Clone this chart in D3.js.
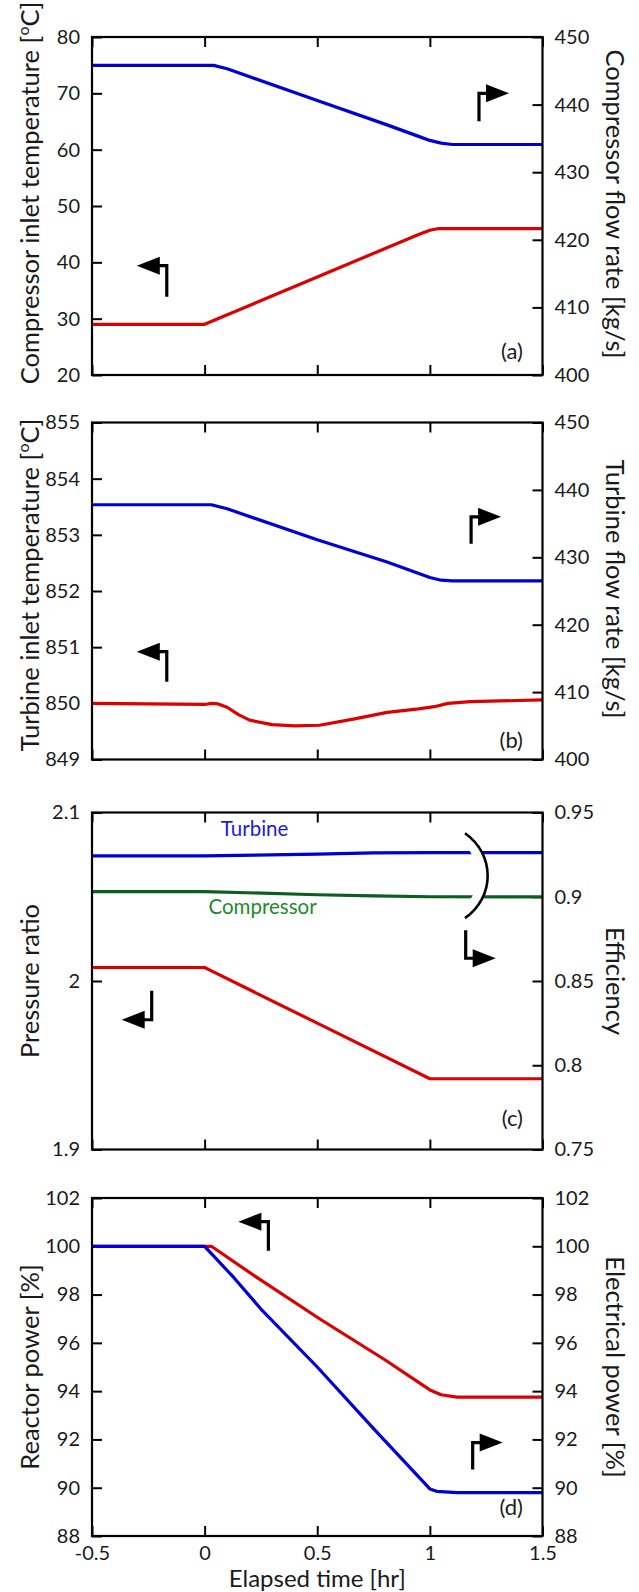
<!DOCTYPE html>
<html>
<head>
<meta charset="utf-8">
<script src="https://cdn.jsdelivr.net/npm/d3@7"></script>
<style>
  body { margin: 0; background: #fff; }
  text { font-family: Lato, "Open Sans", sans-serif; fill: #1a1a1a; }
</style>
</head>
<body>
<div id="chart"></div>
<script>
// ---------------- data ----------------
const timeTicks = [-0.5, 0, 0.5, 1, 1.5];

// (a) compressor
const compTempTime = [-0.5, 0, 0.5, 0.95, 1.0, 1.04, 1.5];
const compTemp     = [29, 29, 37.4, 44.95, 45.7, 46.0, 46.0];
const compFlowTime = [-0.5, 0.04, 0.1, 0.5, 0.81, 0.95, 1.0, 1.05, 1.1, 1.5];
const compFlow     = [445.8, 445.8, 445.3, 440.6, 437.0, 435.3, 434.7, 434.3, 434.1, 434.1];
const compTempTicks = [20, 30, 40, 50, 60, 70, 80];
const compFlowTicks = [400, 410, 420, 430, 440, 450];

// (b) turbine
const turbTempTime = [-0.5, 0, 0.03, 0.06, 0.1, 0.15, 0.2, 0.3, 0.4, 0.51, 0.66, 0.81, 0.95, 1.02, 1.08, 1.18, 1.5];
const turbTemp     = [850.0, 849.98, 850.0, 849.99, 849.93, 849.8, 849.7, 849.62, 849.6, 849.61, 849.72, 849.84, 849.9, 849.94, 850.0, 850.03, 850.06];
const turbFlowTime = [-0.5, 0.03, 0.1, 0.5, 0.81, 1.0, 1.05, 1.1, 1.5];
const turbFlow     = [437.8, 437.8, 437.2, 432.6, 429.3, 427.0, 426.6, 426.5, 426.5];
const turbTempTicks = [849, 850, 851, 852, 853, 854, 855];
const turbFlowTicks = [400, 410, 420, 430, 440, 450];

// (c) pressure ratio and efficiencies
const prTime = [-0.5, 0, 0.03, 0.5, 1.0, 1.5];
const pressureRatio = [2.008, 2.008, 2.006, 1.975, 1.942, 1.942];
const effTime = [-0.5, 0, 0.5, 0.75, 1.0, 1.5];
const turbineEff    = [0.9243, 0.9243, 0.9253, 0.9260, 0.9262, 0.9262];
const compressorEff = [0.9031, 0.9031, 0.9012, 0.9005, 0.9000, 0.8999];
const prTicks  = [1.9, 2, 2.1];
const effTicks = [0.75, 0.8, 0.85, 0.9, 0.95];

// (d) power
const reactorTime = [-0.5, 0.03, 0.23, 0.51, 0.8, 0.96, 1.0, 1.05, 1.12, 1.5];
const reactorPower = [100, 100, 98.72, 97.0, 95.3, 94.3, 94.05, 93.85, 93.75, 93.75];
const elecTime = [-0.5, 0, 0.13, 0.25, 0.5, 0.75, 1.0, 1.03, 1.12, 1.5];
const elecPower = [100, 100, 98.7, 97.4, 95.0, 92.45, 89.95, 89.85, 89.8, 89.8];
const powerTicks = [88, 90, 92, 94, 96, 98, 100, 102];

// ---------------- layout ----------------
const W = 639, H = 1592;
const left = 92, right = 542.5;
const RED = "#dd0000", BLUE = "#0000d4", GREEN = "#0b5e1c";

const svg = d3.select("#chart").append("svg")
  .attr("width", W).attr("height", H);

const x = d3.scaleLinear().domain([-0.5, 1.5]).range([left, right]);

const panels = [
  { tag: "(a)", top: 37, h: 338, tagDy: 16,
    leftDomain: [20, 80], leftTicks: compTempTicks,
    rightDomain: [400, 450], rightTicks: compFlowTicks,
    leftTitle: ["Compressor inlet temperature [", "o", "C]"], leftShift: -13,
    rightTitle: ["Compressor flow rate [kg/s]"], rightShift: -2,
    series: [
      { t: compTempTime, v: compTemp, axis: "L", color: RED },
      { t: compFlowTime, v: compFlow, axis: "R", color: BLUE }],
    arrows: [
      { t: -0.168, y: 39.4, stem: 31, dir: "left" },
      { t: 1.218, y: 70.0, stem: 28, dir: "right" }] },
  { tag: "(b)", top: 422.5, h: 337, tagDy: 12,
    leftDomain: [849, 855], leftTicks: turbTempTicks,
    rightDomain: [400, 450], rightTicks: turbFlowTicks,
    leftTitle: ["Turbine inlet temperature [", "o", "C]"], leftShift: -6,
    rightTitle: ["Turbine flow rate [kg/s]"], rightShift: -2,
    series: [
      { t: turbTempTime, v: turbTemp, axis: "L", color: RED },
      { t: turbFlowTime, v: turbFlow, axis: "R", color: BLUE }],
    arrows: [
      { t: -0.168, y: 850.92, stem: 30, dir: "left" },
      { t: 1.183, y: 853.32, stem: 27, dir: "right" }] },
  { tag: "(c)", top: 812.5, h: 337, tagDy: 24,
    leftDomain: [1.9, 2.1], leftTicks: prTicks,
    rightDomain: [0.75, 0.95], rightTicks: effTicks,
    leftTitle: ["Pressure ratio"], leftShift: 0,
    rightTitle: ["Efficiency"], rightShift: 0,
    series: [
      { t: prTime, v: pressureRatio, axis: "L", color: RED },
      { t: effTime, v: turbineEff, axis: "R", color: BLUE },
      { t: effTime, v: compressorEff, axis: "R", color: GREEN }],
    arrows: [
      { t: -0.235, y: 1.977, stem: -29, dir: "left" },
      { t: 1.159, y: 2.0135, stem: -28, dir: "right" }],
    labels: [
      { text: "Turbine", t: 0.222, y: 0.9363, color: "#1c1cdc" },
      { text: "Compressor", t: 0.257, y: 0.8899, color: "#1e8a2c" }],
    bracket: { t: 1.156, tb: 1.223, y1: 0.9377, y2: 0.8873 } },
  { tag: "(d)", top: 1198, h: 338, tagDy: 21,
    leftDomain: [88, 102], leftTicks: powerTicks,
    rightDomain: [88, 102], rightTicks: powerTicks,
    leftTitle: ["Reactor power [%]"], leftShift: 0,
    rightTitle: ["Electrical power [%]"], rightShift: 0,
    series: [
      { t: reactorTime, v: reactorPower, axis: "L", color: RED },
      { t: elecTime, v: elecPower, axis: "R", color: BLUE }],
    arrows: [
      { t: 0.283, y: 101.02, stem: 29, dir: "left" },
      { t: 1.19, y: 91.87, stem: 27, dir: "right" }],
    showX: true }
];

function titleText(sel, parts) {
  sel.append("tspan").text(parts[0]);
  if (parts.length > 1) {
    sel.append("tspan").text(parts[1]).attr("font-size", 16).attr("dy", -10);
    sel.append("tspan").text(parts[2]).attr("dy", 10);
  }
}

panels.forEach(p => {
  const g = svg.append("g").attr("transform", `translate(0,${p.top})`);
  const yL = d3.scaleLinear().domain(p.leftDomain).range([p.h, 0]);
  const yR = d3.scaleLinear().domain(p.rightDomain).range([p.h, 0]);

  // axes with inward ticks
  const axes = [
    g.append("g").attr("transform", `translate(${left},0)`)
      .call(d3.axisLeft(yL).tickValues(p.leftTicks).tickSize(-10).tickSizeOuter(0)
        .tickPadding(12).tickFormat(d => String(d))),
    g.append("g").attr("transform", `translate(${right},0)`)
      .call(d3.axisRight(yR).tickValues(p.rightTicks).tickSize(-10).tickSizeOuter(0)
        .tickPadding(12).tickFormat(d => String(d))),
    g.append("g").attr("transform", `translate(0,${p.h})`)
      .call(d3.axisBottom(x).tickValues(timeTicks).tickSize(-10).tickSizeOuter(0)
        .tickPadding(10).tickFormat(d => p.showX ? String(d) : "")),
    g.append("g")
      .call(d3.axisTop(x).tickValues(timeTicks).tickSize(-10).tickSizeOuter(0).tickFormat(""))
  ];
  axes.forEach(a => {
    a.select(".domain").remove();
    a.selectAll(".tick line").attr("stroke", "#000").attr("stroke-width", 2);
    a.selectAll(".tick text").attr("font-size", 20).attr("font-family", "Lato").attr("fill", "#1a1a1a");
  });

  // series
  p.series.forEach(s => {
    const ys = s.axis === "L" ? yL : yR;
    const line = d3.line().x(d => x(d[0])).y(d => ys(d[1]));
    g.append("path").datum(d3.zip(s.t, s.v))
      .attr("d", line).attr("fill", "none")
      .attr("stroke", s.color).attr("stroke-width", 3.2)
      .attr("stroke-linejoin", "round");
  });

  // bracket grouping the efficiency curves
  if (p.bracket) {
    const b = p.bracket;
    const xa = x(b.t), xb = x(b.tb), ya = yR(b.y1), yb = yR(b.y2);
    const d = `M${xa},${ya} C${xa + 2 * (xb - xa)},${ya + (yb - ya) * 0.25} ${xa + 2 * (xb - xa)},${ya + (yb - ya) * 0.75} ${xa},${yb}`;
    g.append("path").attr("d", d).attr("transform", "translate(-5,0)")
      .attr("fill", "none").attr("stroke", "#fff").attr("stroke-width", 11);
    g.append("path").attr("d", d)
      .attr("fill", "none").attr("stroke", "#000").attr("stroke-width", 2.6);
  }

  // curve labels
  (p.labels || []).forEach(l => {
    g.append("text").attr("x", x(l.t)).attr("y", yR(l.y))
      .attr("text-anchor", "middle").attr("font-size", 20.5)
      .style("fill", l.color).text(l.text);
  });

  // axis-pointer arrows
  p.arrows.forEach(a => {
    const cx = x(a.t), cy = yL(a.y);
    const s = a.dir === "left" ? -1 : 1;
    g.append("path")
      .attr("d", `M${cx},${cy + a.stem} L${cx},${cy} L${cx + s * 9},${cy}`)
      .attr("fill", "none").attr("stroke", "#000").attr("stroke-width", 3.2);
    g.append("path")
      .attr("d", `M${cx + s * 7},${cy - 9} L${cx + s * 30},${cy} L${cx + s * 7},${cy + 9} Z`)
      .attr("fill", "#000");
  });

  // frame
  g.append("rect").attr("x", left).attr("y", 0)
    .attr("width", right - left).attr("height", p.h)
    .attr("fill", "none").attr("stroke", "#000").attr("stroke-width", 2.2);

  // panel tag
  g.append("text").attr("x", 523).attr("y", p.h - p.tagDy)
    .attr("text-anchor", "end").attr("font-size", 22).text(p.tag);

  // axis titles
  const lt = g.append("text")
    .attr("transform", `translate(39,${p.h / 2 + p.leftShift}) rotate(-90)`)
    .attr("text-anchor", "middle").attr("font-size", 25.5);
  titleText(lt, p.leftTitle);
  const rt = g.append("text")
    .attr("transform", `translate(606,${p.h / 2 + p.rightShift}) rotate(90)`)
    .attr("text-anchor", "middle").attr("font-size", 25.5);
  titleText(rt, p.rightTitle);
});

svg.append("text").attr("x", (left + right) / 2).attr("y", 1587)
  .attr("text-anchor", "middle").attr("font-size", 24).text("Elapsed time [hr]");
</script>
</body>
</html>
